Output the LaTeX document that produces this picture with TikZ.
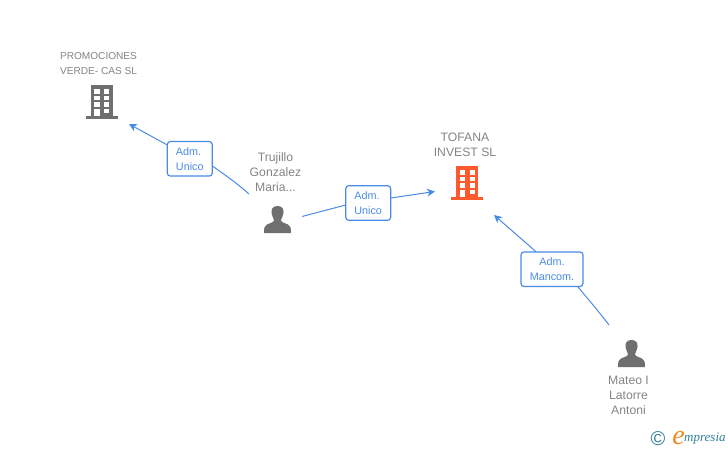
\documentclass[tikz,border=0pt]{standalone}
\usepackage{fontspec}
\setmainfont{Liberation Sans}
\newfontfamily\logofont[Ligatures=TeX]{Liberation Serif}
\usetikzlibrary{arrows.meta}
\definecolor{linkblue}{HTML}{4A8BE6}
\definecolor{labelgrey}{HTML}{858585}
\definecolor{icongrey}{HTML}{6F6F6F}
\definecolor{iconorange}{HTML}{FF5A2E}
\definecolor{logoteal}{HTML}{2F7F96}
\definecolor{logoorange}{HTML}{F08A1D}
\tikzset{
  x=1pt,y=-1pt,
  rolebox/.style={draw=linkblue,line width=1.2pt,rounded corners=3pt,fill=white,
    text=linkblue,font=\fontsize{10.8}{15}\selectfont,align=center,inner sep=0pt,
    minimum height=34.5pt},
  nametext/.style={text=labelgrey,align=center,inner sep=0pt,font=\fontsize{12.2}{15}\selectfont},
  smalltext/.style={text=labelgrey,align=center,inner sep=0pt,font=\fontsize{10.1}{15}\selectfont},
  link/.style={draw=linkblue,line width=1pt},
  arrowlink/.style={link,-{Stealth[length=8pt,width=8pt]}},
  pics/building/.style={code={
    \fill[#1] (5,0) rectangle (27,31);
    \fill[#1] (0,31) rectangle (32,34);
    \foreach \yy in {4,10.5,17.2}{
      \fill[white] (8.8,\yy) rectangle (14,\yy+4.6);
      \fill[white] (18.5,\yy) rectangle (23.8,\yy+4.6);
    }
    \fill[white] (8.8,24) rectangle (14,31);
    \fill[white] (18.5,24) rectangle (23.8,28.4);
  }},
  pics/person/.style={code={
    \fill[icongrey] (13.5,0) .. controls (8.5,0) and (7,3.5) .. (7.5,7)
      .. controls (7.8,10) and (9.5,12) .. (10,14)
      .. controls (10,16.5) and (6,17) .. (3,18.5)
      .. controls (0.5,19.5) and (0,22) .. (0,27)
      -- (27,27)
      .. controls (27,22) and (26.5,19.5) .. (24,18.5)
      .. controls (21,17) and (17,16.5) .. (17,14)
      .. controls (17.5,12) and (19.2,10) .. (19.5,7)
      .. controls (20,3.5) and (18.5,0) .. (13.5,0) -- cycle;
  }},
}
\begin{document}
\begin{tikzpicture}
\useasboundingbox (0,0) rectangle (728,450);
\fill[white] (0,0) rectangle (728,450);

% icons
\pic at (85.5,85) {building=icongrey};
\pic at (451,166) {building=iconorange};
\pic at (264,206) {person};
\pic at (618,340) {person};

% labels
\node[smalltext] (promo) at (98.5,63.5) {PROMOCIONES\\VERDE- CAS SL};
\node[nametext] (tofana) at (465,144.5) {TOFANA\\INVEST SL};
\node[nametext] (trujillo) at (275.5,172) {Trujillo\\Gonzalez\\Maria...};
\node[nametext] (mateo) at (628.5,395.5) {Mateo I\\Latorre\\Antoni};

% role boxes
\node[rolebox,align=left,minimum width=45pt] (boxa) at (189.8,158.8) {Adm.\\Unico};
\node[rolebox,align=left,minimum width=45pt] (boxb) at (368.2,203) {Adm.\\Unico};
\node[rolebox,minimum width=62pt] (boxc) at (552,269.2) {Adm.\\Mancom.};

% connector ends
\coordinate (endA) at (129,124);
\coordinate (endB) at (435,191.5);
\coordinate (endC) at (494,215);
\coordinate (startA) at (249,194);
\coordinate (startB) at (302,216.5);
\coordinate (startC) at (609,325);

% connectors
\draw[link] (startA) .. controls (238,184) and (225,175) .. (212.5,166);
\draw[arrowlink] (167.3,145) -- (endA);
\draw[link] (startB) -- (345.7,205);
\draw[arrowlink] (390.7,198) -- (endB);
\draw[link] (startC) .. controls (599,312) and (589,300) .. (578,287);
\draw[arrowlink] (536,251.7) -- (endC);

% logo
\node[text=logoteal,inner sep=0pt,font=\fontsize{20}{20}\selectfont] (copy) at (658,438.5) {\char"00A9};
\node[text=logoorange,inner sep=0pt,font=\logofont\itshape\fontsize{28}{28}\selectfont] (elogo) at (678.5,438) {e};
\node[text=logoteal,inner sep=0pt,anchor=west,font=\logofont\itshape\fontsize{13}{14}\selectfont] (mpresia) at (684,439) {mpresia};
\end{tikzpicture}
\end{document}
